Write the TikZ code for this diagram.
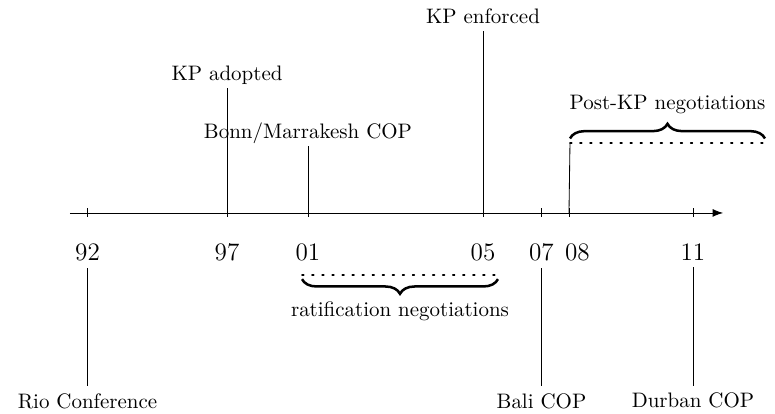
\documentclass[tikz,border=0pt]{standalone}
\usetikzlibrary{positioning,decorations.pathreplacing,arrows.meta}

\begin{document}
\begin{tikzpicture}[node distance=1cm,
    year/.style = {font=\large},
    event/.style = {text depth=0pt},
    span/.style = {thick, loosely dotted, line cap=round},
    brace/.style = {decorate, decoration={brace, amplitude=7pt, raise=2pt}, very thick}]
  \useasboundingbox (0,0) rectangle (13,6.944);
  % time axis
  \coordinate (a0) at (1.174,3.372);
  \coordinate (a1) at (12.13,3.372);
  \draw[-{Latex[length=5pt]}] (a0) -- (a1);
  \foreach \n/\x in {92/1.468, 97/3.808, 01/5.166, 05/8.102, 07/9.083, 11/11.624} {
    \coordinate (t\n) at (\x,3.372);
    \draw (t\n) ++(0,0.075) -- ++(0,-0.15);
    \node[year] (y\n) [below=0.386cm of t\n] {\n};
  }
  \coordinate (t08) at (9.544,3.372);
  \draw (t08) ++(0,0.075) -- ++(0,-0.15);
  \node[year] (y08) [below=0.386cm of t08, xshift=4pt] {08};
  % events above the axis
  \node[event] (kpa) [above=2.097cm of t97] {KP adopted};
  \node[event] (bonn) [above=1.124cm of t01] {Bonn/Marrakesh COP};
  \node[event] (kpe) [above=3.053cm of t05] {KP enforced};
  % events below the axis
  \node (rio) [below=1.98cm of y92] {Rio Conference};
  \node (bali) [below=1.98cm of y07] {Bali COP};
  \node (durban) [below=1.98cm of y11] {Durban COP};
  \path[draw]
    (t97) edge (kpa)
    (t01) edge (bonn)
    (t05) edge (kpe)
    (y92) edge (rio)
    (y07) edge (bali)
    (y11) edge (durban);
  % negotiation periods
  \coordinate (r0) at (5.066,2.332);
  \coordinate (r1) at (8.353,2.332);
  \draw[span] (r0) -- (r1);
  \draw[brace] (r1) -- (r0) node[midway, below=9pt] {ratification negotiations};
  \coordinate (p0) at (9.561,4.551);
  \coordinate (p1) at (12.832,4.551);
  \draw (t08) -- (p0);
  \draw[span] (p0) -- (p1);
  \draw[brace] (p0) -- (p1) node[midway, above=10pt] {Post-KP negotiations};
\end{tikzpicture}
\end{document}
